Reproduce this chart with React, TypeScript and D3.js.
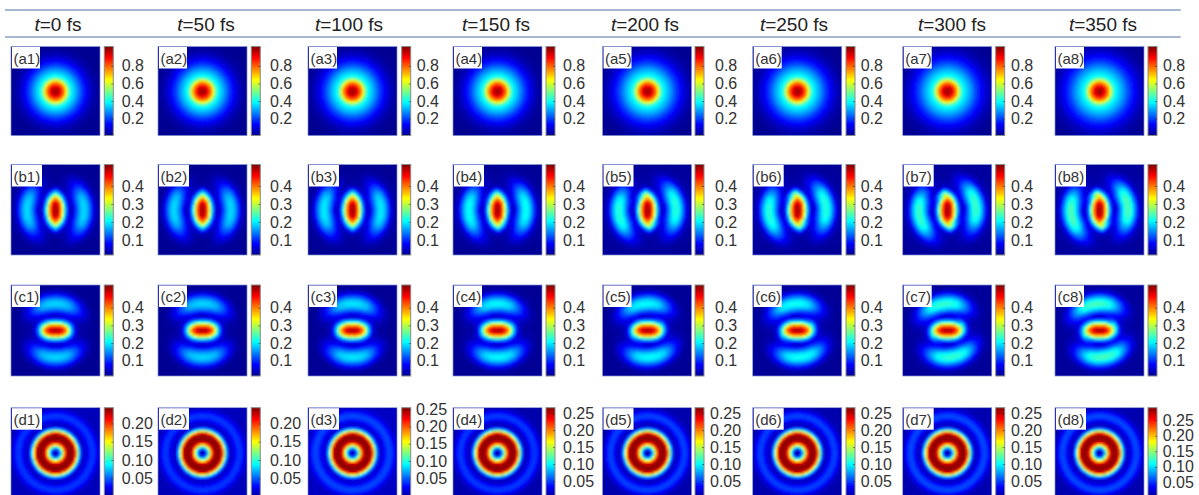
import React, { useEffect, useRef } from 'react'
import * as d3 from 'd3'

const width = 1199
const height = 495

const times = [0, 50, 100, 150, 200, 250, 300, 350]
const titleCenters = [58, 206, 349, 496, 645, 794, 952, 1103]
const panelLefts = [11, 158, 308, 453, 602.5, 752.7, 902.7, 1055]
const barLefts = [104.3, 251.3, 401.7, 546, 695, 846, 995.7, 1148]
const labelLefts = [121.7, 270, 416.7, 563, 715, 860.7, 1011, 1163]
const labelLeftsD = [121.7, 270, 416, 563, 710, 860.7, 1011, 1162.7]

const rowTops = [46.5, 164.5, 285, 407.7]
const rowBottoms = [135.5, 255, 376, 498]

const jetStops = [0, 0.125, 0.375, 0.625, 0.875, 1]
const jetColors = ['#00008f', '#0000ff', '#00ffff', '#ffff00', '#ff0000', '#800000']

// colorbar ranges and ticks
const ticksA = [0.2, 0.4, 0.6, 0.8]
const ticksBC = [0.1, 0.2, 0.3, 0.4]
const ticksDShort = [0.05, 0.1, 0.15, 0.2]
const ticksDLong = [0.05, 0.1, 0.15, 0.2, 0.25]
const rangeA = [0.009, 1.02]
const rangeB = [0.016, 0.519]
const rangeC = [0.014, 0.528]
const rangeD = [
  [-0.004, 0.243],
  [-0.004, 0.243],
  [-0.007, 0.254],
  [0, 0.266],
  [0, 0.266],
  [0, 0.266],
  [0, 0.266],
  [0, 0.29],
]

// (a) radial profile, pixels from centre -> value
const radiiA = [0, 2, 4, 6, 8, 10, 12, 14, 16, 18, 22, 26, 30, 35, 40, 46, 64]
const profileA = [1.0, 0.98, 0.94, 0.88, 0.8, 0.7, 0.56, 0.43, 0.385, 0.35, 0.28, 0.2, 0.14, 0.07, 0.03, 0.012, 0.01]
const haloStretchA = [1, 1.04, 1.08, 1.06, 1.18, 1.14, 1.22, 1.28]

// (d) radial profile as a share of each panel's peak
const radiiD = [0, 2, 4, 6, 8, 10, 12, 14, 16, 18, 20, 22, 24, 26, 28, 30, 33, 36, 38, 41, 44, 48, 64]
const profileD = [0.03, 0.05, 0.18, 0.4, 0.64, 0.88, 0.97, 1.0, 1.0, 0.98, 0.88, 0.58, 0.28, 0.11, 0.05, 0.055, 0.115, 0.165, 0.165, 0.115, 0.055, 0.03, 0.03]
const peakD = [0.24, 0.24, 0.25, 0.262, 0.262, 0.262, 0.262, 0.285]
const outerGainD = [1, 1, 1.05, 1.1, 1.15, 1.15, 1.2, 1.2]

// (b), (c) polar tables: one row per angle from the horizontal, one column per radius
const polarAngles = [0, 15, 30, 45, 60, 75, 90]
const polarRadii = [0, 3, 6, 9, 12, 15, 18, 21, 24, 27, 30, 33, 36, 39, 42, 46, 64]
const tableB = [
  [0.5, 0.48, 0.37, 0.22, 0.09, 0.04, 0.055, 0.11, 0.155, 0.185, 0.185, 0.155, 0.105, 0.055, 0.03, 0.022, 0.016],
  [0.5, 0.48, 0.38, 0.23, 0.09, 0.045, 0.06, 0.11, 0.155, 0.185, 0.185, 0.155, 0.105, 0.055, 0.03, 0.022, 0.016],
  [0.5, 0.485, 0.4, 0.26, 0.12, 0.055, 0.06, 0.095, 0.135, 0.165, 0.165, 0.145, 0.1, 0.055, 0.03, 0.022, 0.016],
  [0.5, 0.49, 0.44, 0.32, 0.17, 0.075, 0.05, 0.06, 0.085, 0.11, 0.115, 0.105, 0.08, 0.05, 0.03, 0.02, 0.016],
  [0.5, 0.49, 0.465, 0.39, 0.26, 0.135, 0.06, 0.04, 0.045, 0.055, 0.06, 0.06, 0.05, 0.035, 0.025, 0.018, 0.016],
  [0.5, 0.495, 0.48, 0.43, 0.33, 0.22, 0.115, 0.055, 0.03, 0.028, 0.028, 0.028, 0.025, 0.022, 0.02, 0.018, 0.016],
  [0.5, 0.495, 0.485, 0.45, 0.39, 0.3, 0.19, 0.095, 0.04, 0.025, 0.02, 0.02, 0.02, 0.02, 0.018, 0.016, 0.016],
]
const tableC = [
  [0.51, 0.505, 0.48, 0.44, 0.37, 0.22, 0.11, 0.05, 0.03, 0.02, 0.02, 0.018, 0.016, 0.016, 0.016, 0.016, 0.016],
  [0.51, 0.5, 0.475, 0.42, 0.33, 0.2, 0.1, 0.05, 0.035, 0.03, 0.03, 0.028, 0.022, 0.018, 0.016, 0.016, 0.016],
  [0.51, 0.495, 0.45, 0.37, 0.24, 0.13, 0.065, 0.05, 0.06, 0.07, 0.07, 0.06, 0.045, 0.03, 0.018, 0.016, 0.016],
  [0.51, 0.485, 0.42, 0.3, 0.17, 0.08, 0.055, 0.075, 0.105, 0.125, 0.12, 0.1, 0.07, 0.04, 0.022, 0.016, 0.016],
  [0.51, 0.475, 0.385, 0.24, 0.11, 0.055, 0.07, 0.11, 0.155, 0.17, 0.16, 0.125, 0.08, 0.045, 0.022, 0.016, 0.016],
  [0.51, 0.465, 0.35, 0.2, 0.08, 0.045, 0.08, 0.13, 0.17, 0.185, 0.17, 0.13, 0.08, 0.045, 0.022, 0.016, 0.016],
  [0.51, 0.46, 0.34, 0.19, 0.07, 0.04, 0.085, 0.14, 0.175, 0.19, 0.17, 0.125, 0.08, 0.04, 0.02, 0.016, 0.016],
]
// outer lobes brighten and turn counter-clockwise with time
const lobeGainB = [1, 1, 1.05, 1.12, 1.2, 1.2, 1.25, 1.3]
const lobeGainC = [1, 1, 1.05, 1.1, 1.12, 1.15, 1.25, 1.3]
const lobeTilt = [0, 0, 0, 2, 6, 7, 9, 8]

const rowNames = ['a', 'b', 'c', 'd']

const App = () => {
  const ref = useRef(null)

  useEffect(() => {
    d3.select(ref.current).selectAll('*').remove()

    const svg = d3.select(ref.current)
      .append('svg')
      .attr('width', width)
      .attr('height', height)
      .style('position', 'absolute')
      .style('left', 0)
      .style('top', 0)
      .style('font-family', '"Liberation Sans", Arial, sans-serif')

    const defs = svg.append('defs')
    const jet = d3.scaleLinear().domain(jetStops).range(jetColors).clamp(true)

    const gradient = defs.append('linearGradient')
      .attr('id', 'jet')
      .attr('x1', 0).attr('x2', 0).attr('y1', 1).attr('y2', 0)
    gradient.selectAll('stop')
      .data(jetStops)
      .join('stop')
      .attr('offset', d => d)
      .attr('stop-color', (d, i) => jetColors[i])

    defs.append('filter')
      .attr('id', 'soft')
      .append('feGaussianBlur')
      .attr('stdDeviation', 0.8)

    // Header
    svg.selectAll('.rule')
      .data([10, 37])
      .join('line')
      .attr('x1', 5).attr('x2', 1180.7)
      .attr('y1', d => d).attr('y2', d => d)
      .attr('stroke', '#4f71a3')
      .attr('stroke-width', 1.2)

    const titles = svg.selectAll('.title')
      .data(times)
      .join('text')
      .attr('x', (d, i) => titleCenters[i])
      .attr('y', 31)
      .attr('text-anchor', 'middle')
      .attr('font-size', 19)
      .attr('fill', '#222')
    titles.append('tspan').attr('font-style', 'italic').text('t')
    titles.append('tspan').text(d => `=${d} fs`)

    // Lookups for the profiles and polar tables
    const lookupA = d3.scaleLinear().domain(radiiA).range(profileA).clamp(true)
    const lookupD = d3.scaleLinear().domain(radiiD).range(profileD).clamp(true)
    const polarLookup = table => {
      const rows = table.map(row => d3.scaleLinear().domain(polarRadii).range(row).clamp(true))
      return (r, angle) => {
        const across = d3.scaleLinear().domain(polarAngles).range(rows.map(f => f(r)))
        return across(angle)
      }
    }
    const lookupB = polarLookup(tableB)
    const lookupC = polarLookup(tableC)
    const foldedAngle = (dx, dy) => Math.atan2(Math.abs(dy), Math.abs(dx)) * 180 / Math.PI

    const lobed = (lookup, gain, tilt) => (dx, dy) => {
      const r = Math.hypot(dx, dy)
      const t = tilt * Math.PI / 180
      const rx = dx * Math.cos(t) - dy * Math.sin(t)
      const ry = dx * Math.sin(t) + dy * Math.cos(t)
      const inner = lookup(r, foldedAngle(dx, dy))
      const outer = lookup(r, foldedAngle(rx, ry)) * gain
      const w = Math.max(0, Math.min(1, (r - 13) / 4))
      return inner * (1 - w) + outer * w
    }

    const valueAt = (row, col) => {
      if (row === 0) {
        return (dx, dy) => {
          const r = Math.hypot(dx, dy)
          return lookupA(r <= 14 ? r : 14 + (r - 14) / haloStretchA[col])
        }
      }
      if (row === 1) return lobed(lookupB, lobeGainB[col], lobeTilt[col])
      if (row === 2) return lobed(lookupC, lobeGainC[col], lobeTilt[col])
      return (dx, dy) => {
        const r = Math.hypot(dx, dy)
        return lookupD(r) * peakD[col] * (r > 27 ? outerGainD[col] : 1)
      }
    }

    const cell = 2
    const panelWidth = 89

    rowNames.forEach((name, row) => {
      times.forEach((time, col) => {
        const x0 = panelLefts[col]
        const y0 = rowTops[row]
        const y1 = rowBottoms[row]
        const panelHeight = y1 - y0
        const domain = row === 0 ? rangeA : row === 1 ? rangeB : row === 2 ? rangeC : rangeD[col]
        const colorScale = d3.scaleLinear().domain(domain).range([0, 1]).clamp(true)
        const value = valueAt(row, col)

        const cells = []
        d3.range(0, panelWidth, cell).forEach(px => {
          d3.range(0, panelHeight, cell).forEach(py => {
            cells.push({
              px,
              py,
              v: value(px + cell / 2 - panelWidth / 2, py + cell / 2 - panelHeight / 2),
            })
          })
        })

        const clipId = `clip-${name}${col}`
        defs.append('clipPath').attr('id', clipId)
          .append('rect')
          .attr('x', x0).attr('y', y0)
          .attr('width', panelWidth).attr('height', panelHeight)

        const panel = svg.append('g').attr('clip-path', `url(#${clipId})`)
        panel.append('rect')
          .attr('x', x0).attr('y', y0)
          .attr('width', panelWidth).attr('height', panelHeight)
          .attr('fill', jetColors[0])
        panel.append('g')
          .attr('filter', 'url(#soft)')
          .attr('shape-rendering', 'crispEdges')
          .selectAll('rect')
          .data(cells)
          .join('rect')
          .attr('x', d => x0 + d.px)
          .attr('y', d => y0 + d.py)
          .attr('width', cell + 0.5)
          .attr('height', cell + 0.5)
          .attr('fill', d => jet(colorScale(d.v)))

        svg.append('rect')
          .attr('x', x0).attr('y', y0)
          .attr('width', panelWidth).attr('height', panelHeight)
          .attr('fill', 'none')
          .attr('stroke', '#7f8fd0')
          .attr('stroke-width', 0.7)

        // Panel tag
        const tag = `(${name}${col + 1})`
        const tagWidth = name === 'b' || name === 'd' ? 30 : 28
        svg.append('rect')
          .attr('x', x0 + 1).attr('y', y0 + 0.5)
          .attr('width', tagWidth).attr('height', 21.5)
          .attr('fill', 'white')
        svg.append('text')
          .attr('x', x0 + 2.5).attr('y', y0 + 17)
          .attr('font-size', 15)
          .attr('fill', '#333')
          .text(tag)

        // Colorbar
        const barX = barLefts[col]
        svg.append('rect')
          .attr('x', barX).attr('y', y0)
          .attr('width', 9).attr('height', panelHeight)
          .attr('fill', 'url(#jet)')
          .attr('stroke', '#8a8a8a')
          .attr('stroke-width', 1)

        const tickList = row === 0 ? ticksA
          : row < 3 ? ticksBC
          : col < 2 ? ticksDShort : ticksDLong
        const labelX = (row === 3 ? labelLeftsD : labelLefts)[col]
        const barScale = d3.scaleLinear().domain(domain).range([y1, y0])
        const axis = d3.axisRight(barScale)
          .tickValues(tickList)
          .tickSizeInner(-2)
          .tickSizeOuter(0)
          .tickPadding(labelX - barX - 9)
          .tickFormat(d3.format(row === 3 ? '.2f' : '.1f'))
        const axisG = svg.append('g')
          .attr('transform', `translate(${barX + 9},0)`)
          .call(axis)
        axisG.select('.domain').remove()
        axisG.selectAll('line').attr('stroke', '#333').attr('stroke-width', 0.6)
        axisG.selectAll('text')
          .attr('font-family', '"Liberation Sans", Arial, sans-serif')
          .attr('font-size', 16)
          .attr('fill', '#333')
      })
    })
  }, [])

  return <div ref={ref}></div>
}

export default App
